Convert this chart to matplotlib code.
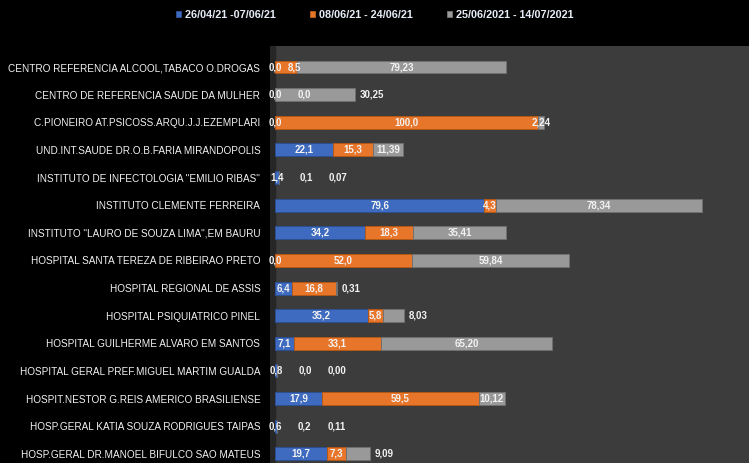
import matplotlib.pyplot as plt
import numpy as np

categories = [
    'CENTRO REFERENCIA ALCOOL,TABACO O.DROGAS',
    'CENTRO DE REFERENCIA SAUDE DA MULHER',
    'C.PIONEIRO AT.PSICOSS.ARQU.J.J.EZEMPLARI',
    'UND.INT.SAUDE DR.O.B.FARIA MIRANDOPOLIS',
    'INSTITUTO DE INFECTOLOGIA "EMILIO RIBAS"',
    'INSTITUTO CLEMENTE FERREIRA',
    'INSTITUTO "LAURO DE SOUZA LIMA",EM BAURU',
    'HOSPITAL SANTA TEREZA DE RIBEIRAO PRETO',
    'HOSPITAL REGIONAL DE ASSIS',
    'HOSPITAL PSIQUIATRICO PINEL',
    'HOSPITAL GUILHERME ALVARO EM SANTOS',
    'HOSPITAL GERAL PREF.MIGUEL MARTIM GUALDA',
    'HOSPIT.NESTOR G.REIS AMERICO BRASILIENSE',
    'HOSP.GERAL KATIA SOUZA RODRIGUES TAIPAS',
    'HOSP.GERAL DR.MANOEL BIFULCO SAO MATEUS',
]
periodo_1 = [0.0, 0.0, 0.0, 22.1, 1.4, 79.6, 34.2, 0.0, 6.4, 35.2, 7.1, 0.8, 17.9, 0.6, 19.7]
periodo_2 = [8.5, 0.0, 100.0, 15.3, 0.1, 4.3, 18.3, 52.0, 16.8, 5.8, 33.1, 0.0, 59.5, 0.2, 7.3]
periodo_3 = [79.23, 30.25, 2.24, 11.39, 0.07, 78.34, 35.41, 59.84, 0.31, 8.03, 65.20, 0.00, 10.12, 0.11, 9.09]
series_names = ['26/04/21 -07/06/21', '08/06/21 - 24/06/21', '25/06/2021 - 14/07/2021']
decimals = [1, 1, 2]
colors = ['#3e6bbf', '#e8762a', '#999999']
edges = ['#2c4f91', '#b35816', '#707070']

PX_PER_UNIT = 2.63


def fmt(v, d):
    return f'{v:.{d}f}'.replace('.', ',')


def label_w(s):
    # rough label width in data units
    px = sum(3.0 if c == ',' else 6.0 for c in s)
    return px / PX_PER_UNIT


fig = plt.figure(figsize=(7.49, 4.63), dpi=100, facecolor='black')
ax = fig.add_axes([270 / 749, 0, 479 / 749, 417 / 463])
ax.set_facecolor('#3c3c3c')

n = len(categories)
y = np.arange(n)
series = [periodo_1, periodo_2, periodo_3]

left = np.zeros(n)
for vals, c, e, name in zip(series, colors, edges, series_names):
    ax.barh(y, vals, left=left, height=0.47, color=c, edgecolor=e,
            linewidth=0.7, label=name, zorder=3)
    left = left + np.array(vals)

# data labels, nudged to avoid overlaps
gap = 14 / PX_PER_UNIT
small_gap = 4 / PX_PER_UNIT
near = 8 / PX_PER_UNIT
for i in range(n):
    start = 0.0
    prev_right = None
    for k, vals in enumerate(series):
        v = vals[i]
        s = fmt(v, decimals[k])
        w = label_w(s)
        x = start + v / 2
        if prev_right is not None and x - w / 2 < prev_right + near:
            if k == len(series) - 1:
                x = max(start + v + 1.5 + w / 2, prev_right + gap + w / 2)
            elif v < 2:
                x = prev_right + gap + w / 2
            else:
                x = max(x, prev_right + small_gap + w / 2)
        ax.text(x, i, s, ha='center', va='center', color='#f2f2f2',
                fontsize=7, fontweight='bold', family='Liberation Sans', zorder=5)
        prev_right = x + w / 2
        start += v

ax.axvspan(-1.9, 0, color='#262626', zorder=1)
ax.set_xlim(-1.9, 479 / PX_PER_UNIT - 1.9)
ax.set_ylim(14.33, -0.76)
ax.set_yticks(y)
ax.set_yticklabels(categories, color='#f2f2f2', fontsize=7.2, family='Liberation Sans')
ax.tick_params(axis='y', length=0, pad=7)
ax.set_xticks([])
for sp in ax.spines.values():
    sp.set_visible(False)

leg = fig.legend(loc='upper center', bbox_to_anchor=(0.5, 1.0), ncol=3, frameon=False,
                 handlelength=0.5, handleheight=0.5, handletextpad=0.3, columnspacing=3.2,
                 prop={'family': 'Liberation Sans', 'weight': 'bold', 'size': 7.8})
for t in leg.get_texts():
    t.set_color('#e6ecf7')

fig.savefig('out.png', dpi=100, facecolor='black')
